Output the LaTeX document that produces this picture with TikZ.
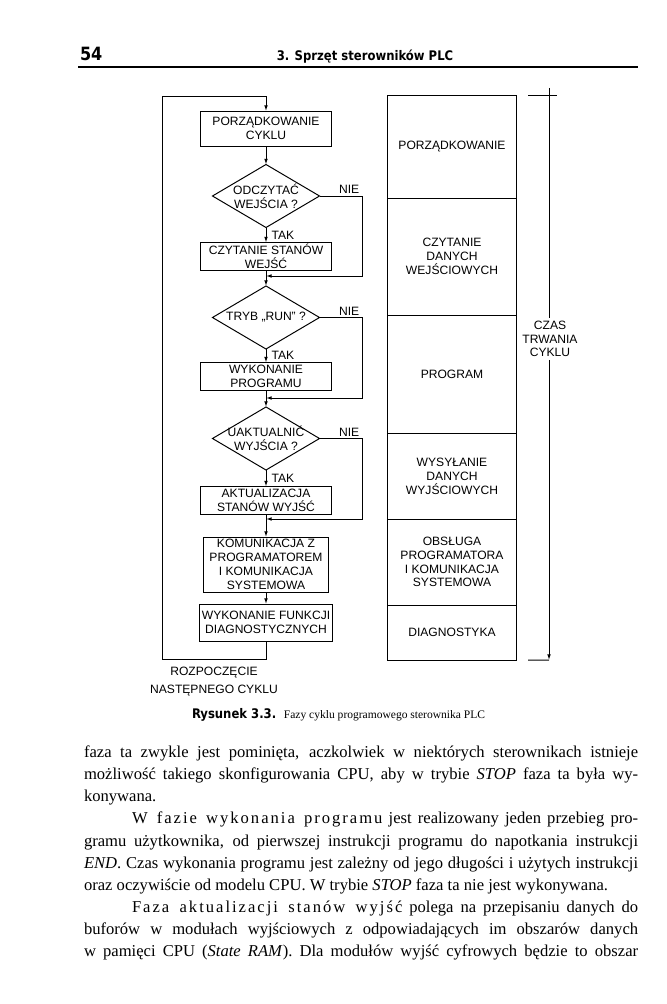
\documentclass[tikz,border=0pt]{standalone}
\usepackage{fontspec}
\setmainfont{Liberation Serif}
\setsansfont{Liberation Sans}
\newfontfamily\headfont[FakeStretch=0.88]{DejaVu Sans}
\usetikzlibrary{arrows.meta, positioning}
\newcommand{\spaced}{\addfontfeature{LetterSpace=12}}

\begin{document}
\begin{tikzpicture}[x=0.025cm, y=-0.025cm,
  every node/.style={inner sep=0pt, outer sep=0pt},
  stepbox/.style={rectangle, draw, line width=0.7pt, align=center,
                  font=\sffamily\fontsize{8.6}{9.8}\selectfont, minimum width=3.25cm},
  quest/.style={rectangle, align=center, font=\sffamily\fontsize{8.6}{9.8}\selectfont,
                minimum width=2.675cm, minimum height=1.575cm},
  phase/.style={rectangle, draw, line width=0.7pt, align=center,
                font=\sffamily\fontsize{8.6}{9.8}\selectfont, minimum width=3.2cm},
  lbl/.style={font=\sffamily\fontsize{8.6}{9.8}\selectfont},
  tak/.style={lbl, midway, anchor=west, xshift=4pt},
  nie/.style={lbl, anchor=south east, xshift=-2pt, yshift=1.5pt},
  line/.style={line width=0.7pt},
  arr/.style={line width=0.7pt, -{Latex[length=4pt, width=2.6pt]}},
]
\useasboundingbox (0,0) rectangle (666,1004);

% ---- page header ----
\node[font=\headfont\bfseries\fontsize{13}{15}\selectfont, anchor=base west] (pnum) at (80,61) {54};
\node[font=\headfont\bfseries\fontsize{9.4}{11}\selectfont, anchor=base] (chap) at (365,61)
  {3. Sprzęt sterowników PLC};
\draw[line width=1.4pt] (78,67) -- (638,67);

% ---- flowchart (left) ----
\node[stepbox, minimum height=0.875cm] (cykl) at (266,128.5) {PORZĄDKOWANIE\\CYKLU};
\node[quest] (odcz) at (266,196)   {ODCZYTAĆ\\WEJŚCIA ?};
\node[stepbox, minimum height=0.7cm] (czyt) at (266,256.5) {CZYTANIE STANÓW\\WEJŚĆ};
\node[quest] (tryb) at (266,317.5) {TRYB „RUN” ?};
\node[stepbox, minimum height=0.7cm] (prog) at (266,376.5) {WYKONANIE\\PROGRAMU};
\node[quest] (uakt) at (266,438.5) {UAKTUALNIĆ\\WYJŚCIA ?};
\node[stepbox, minimum height=0.7cm] (aktu) at (266,500.5) {AKTUALIZACJA\\STANÓW WYJŚĆ};
\node[stepbox, minimum width=3.125cm, minimum height=1.375cm] (komu) at (266,564.5)
  {KOMUNIKACJA Z\\PROGRAMATOREM\\I KOMUNIKACJA\\SYSTEMOWA};
\node[stepbox, minimum width=3.3cm, minimum height=0.925cm] (diag) at (266,622.5)
  {WYKONANIE FUNKCJI\\DIAGNOSTYCZNYCH};
\foreach \q in {odcz,tryb,uakt}
  \draw[line] (\q.north) -- (\q.east) -- (\q.south) -- (\q.west) -- cycle;

\coordinate (j1) at (266,276);
\coordinate (j2) at (266,398);
\coordinate (j3) at (266,519);
\coordinate (ret) at (162,96);

\draw[arr] (cykl.south) -- (odcz.north);
\draw[arr] (odcz.south) -- node[tak] {TAK} (czyt.north);
\draw[arr] (odcz.east) -- ++(42.5,0) node[nie] {NIE} |- (j1);
\draw[arr] (czyt.south) -- (tryb.north);
\draw[arr] (tryb.south) -- node[tak] {TAK} (prog.north);
\draw[arr] (tryb.east) -- ++(42.5,0) node[nie] {NIE} |- (j2);
\draw[arr] (prog.south) -- (uakt.north);
\draw[arr] (uakt.south) -- node[tak] {TAK} (aktu.north);
\draw[arr] (uakt.east) -- ++(42.5,0) node[nie] {NIE} |- (j3);
\draw[arr] (aktu.south) -- (komu.north);
\draw[arr] (komu.south) -- (diag.north);
\draw[arr] (diag.south) -- ++(0,18) -| (ret) -| (cykl.north);

\node[lbl, align=center] (next) at (214,682) {ROZPOCZĘCIE\\[3pt]NASTĘPNEGO CYKLU};

% ---- phases of the cycle (right) ----
\node[phase, minimum height=2.55cm] (f1) at (452,147) {PORZĄDKOWANIE};
\node[phase, minimum height=2.925cm, below=0pt of f1] (f2) {CZYTANIE\\DANYCH\\WEJŚCIOWYCH};
\node[phase, minimum height=2.95cm, below=0pt of f2] (f3) {PROGRAM};
\node[phase, minimum height=2.15cm, below=0pt of f3] (f4) {WYSYŁANIE\\DANYCH\\WYJŚCIOWYCH};
\node[phase, minimum height=2.15cm, below=0pt of f4] (f5)
  {OBSŁUGA\\PROGRAMATORA\\I KOMUNIKACJA\\SYSTEMOWA};
\node[phase, minimum height=1.375cm, below=0pt of f5] (f6) {DIAGNOSTYKA};

% time axis
\coordinate (tTop) at (549,88);
\coordinate (tEnd) at (549,660);
\node[lbl, align=center, inner ysep=2pt] (czas) at (550,339) {CZAS\\TRWANIA\\CYKLU};
\draw[line] ([xshift=0.3cm]f1.north east) -- ([xshift=1.025cm]f1.north east);
\draw[line] (tTop) -- (czas.north -| tTop);
\draw[arr] (czas.south -| tTop) -- (tEnd);
\draw[line] ([xshift=0.3cm]f6.south east) -- (tEnd);

% ---- caption ----
\node[anchor=base west] (capt) at (192,718)
  {{\headfont\bfseries\fontsize{9.4}{11}\selectfont Rysunek 3.3.}\hspace{5.5pt}%
   {\fontsize{8.2}{10}\selectfont Fazy cyklu programowego sterownika PLC}};

% ---- body text ----
\node[anchor=north west, text width=13.85cm, align=justify,
      font=\fontsize{11.8}{15.7}\selectfont] (body) at (84,746)
{\hyphenpenalty=10000 \tolerance=10000
faza ta zwykle jest pominięta, aczkolwiek w niektórych sterownikach istnieje\linebreak
możliwość takiego skonfigurowania CPU, aby w trybie \textit{STOP} faza ta była wy-\linebreak
konywana.\par
\hspace*{1.2cm}{\spaced W fazie wykonania programu} jest realizowany jeden przebieg pro-\linebreak
gramu użytkownika, od pierwszej instrukcji programu do napotkania instrukcji\linebreak
\textit{END}. Czas wykonania programu jest zależny od jego długości i użytych instrukcji\linebreak
oraz oczywiście od modelu CPU. W trybie \textit{STOP} faza ta nie jest wykonywana.\par
\hspace*{1.2cm}{\spaced Faza aktualizacji stanów wyjść} polega na przepisaniu danych do\linebreak
buforów w modułach wyjściowych z odpowiadających im obszarów danych\linebreak
w pamięci CPU (\textit{State RAM}). Dla modułów wyjść cyfrowych będzie to obszar\parfillskip=0pt\par};

\end{tikzpicture}
\end{document}
